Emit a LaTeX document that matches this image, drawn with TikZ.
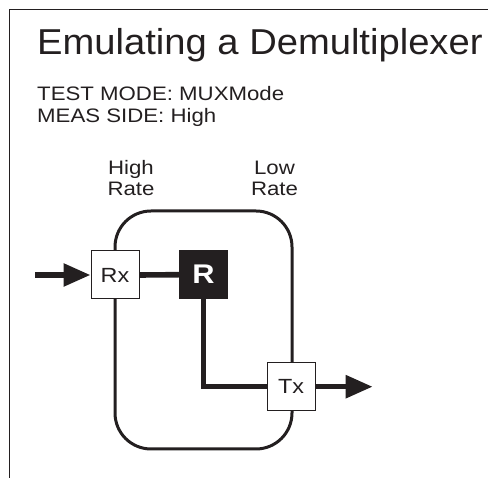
\documentclass[tikz,border=0pt]{standalone}
\usepackage{fontspec}
\setmainfont{Liberation Sans}
\newfontfamily\titlefont[FakeStretch=1.06]{Liberation Sans}
\newfontfamily\smallfont[FakeStretch=1.14]{Liberation Sans}
\usetikzlibrary{arrows.meta}
\definecolor{ink}{HTML}{231F20}
\tikzset{
  frameline/.style={draw=ink, line width=1.5pt},
  blockbox/.style={draw=ink, line width=1pt, fill=white, minimum width=48pt, minimum height=48pt, inner sep=0pt, text=ink,
    font=\smallfont\fontsize{20.5}{22}\selectfont},
  darkbox/.style={fill=ink, minimum width=49pt, minimum height=49pt, inner sep=0pt, text=white,
    font=\smallfont\bfseries\fontsize{27}{30}\selectfont},
  plain/.style={text=ink, inner sep=0pt, font=\smallfont\fontsize{19.5}{21.6}\selectfont},
  flow/.style={draw=ink, line width=5.6pt},
  flowarrow/.style={flow, -{Triangle[length=27pt, width=22pt]}},
  enclosure/.style={draw=ink, line width=3pt, rounded corners=36pt}
}
\begin{document}
\begin{tikzpicture}[x=1pt, y=-1pt]
\useasboundingbox (0,0) rectangle (488,478);
% frame
\coordinate (ftr) at (488,9.5);
\coordinate (ftl) at (9.5,9.5);
\coordinate (fbl) at (9.5,478);
\draw[frameline] (ftr) -- (ftl) -- (fbl);
% texts
\node[text=ink, inner sep=0pt, anchor=base west, font=\titlefont\fontsize{36}{40}\selectfont] (title) at (37,55) {Emulating a Demultiplexer};
\node[plain, anchor=base west, align=left] (mode) at (37,122.3) {TEST MODE: MUXMode\\MEAS SIDE: High};
\node[plain, anchor=base, align=center] (high) at (131,195.7) {High\\Rate};
\node[plain, anchor=base, align=center] (low) at (274.5,195.7) {Low\\Rate};
% enclosure
\coordinate (encA) at (115,211);
\coordinate (encB) at (292,449);
\draw[enclosure] (encA) rectangle (encB);
% blocks
\node[blockbox] (rx) at (115,275) {Rx};
\node[darkbox] (r) at (203.5,274.7) {R};
\node[blockbox] (tx) at (291,386.7) {Tx};
% connectors
\coordinate (in) at (35,275);
\coordinate (out) at (372.7,386.7);
\draw[flowarrow] (in) -- (rx.west);
\draw[flow] (rx.east) -- (r.west);
\draw[flow] (r.south) |- (tx.west);
\draw[flowarrow] (tx.east) -- (out);
\end{tikzpicture}
\end{document}
